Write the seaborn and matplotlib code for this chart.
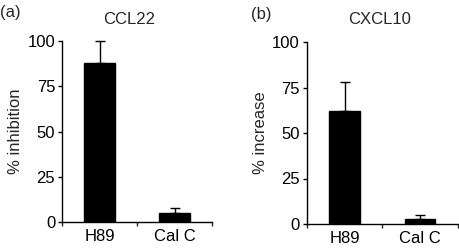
"""Two-panel bar chart: CCL22 inhibition and CXCL10 increase."""

import matplotlib
matplotlib.use("Agg")
import matplotlib.pyplot as plt
import pandas as pd
import seaborn as sns

# Data
treatments = ["H89", "Cal C"]
ccl22_mean = [88, 5]
ccl22_err = [12, 2.5]
cxcl10_mean = [62, 3]
cxcl10_err = [16, 2]

FS = 12

sns.set_style(style="ticks")
plt.rcParams["font.family"] = ["Liberation Sans", "DejaVu Sans"]

fig = plt.figure(figsize=(4.6, 2.5), dpi=100)
ax_a = fig.add_axes([0.135, 0.112, 0.326, 0.724])
ax_b = fig.add_axes([0.667, 0.104, 0.328, 0.728])

panels = [
    (ax_a, ccl22_mean, ccl22_err, "% inhibition"),
    (ax_b, cxcl10_mean, cxcl10_err, "% increase"),
]

for ax, means, errs, ylabel in panels:
    df = pd.DataFrame({"treatment": treatments, "value": means})
    sns.barplot(df, x="treatment", y="value", ax=ax, color="black",
                width=0.41, errorbar=None, saturation=1, edgecolor="black")
    ax.errorbar(range(len(treatments)), means, yerr=[[0] * len(errs), errs],
                fmt="none", ecolor="black", elinewidth=1, capsize=3.5,
                capthick=1, clip_on=False)

    ax.set_xlim(-0.5, 1.5)
    ax.set_ylim(0, 100)
    ax.set_yticks([0, 25, 50, 75, 100])
    ax.set_xticks([-0.5, 0.5, 1.5], minor=True)
    ax.tick_params(axis="x", which="major", length=0, pad=5)
    ax.tick_params(axis="x", which="minor", length=3, width=1, direction="out")
    ax.tick_params(axis="y", length=3, width=1, direction="out", pad=2)
    ax.tick_params(axis="both", labelsize=FS, colors="black")
    sns.despine(ax=ax)
    for side in ["left", "bottom"]:
        ax.spines[side].set_linewidth(1)
        ax.spines[side].set_color("black")

    ax.set_xlabel("")
    ax.set_ylabel(ylabel, fontsize=FS, labelpad=3)

fig.text(129 / 460, 0.92, "CCL22", ha="center", va="center", fontsize=FS)
fig.text(380 / 460, 0.92, "CXCL10", ha="center", va="center", fontsize=FS)
fig.text(0.0, 0.95, "(a)", ha="left", va="center", fontsize=FS)
fig.text(251 / 460, 0.94, "(b)", ha="left", va="center", fontsize=FS)

fig.savefig("out.png", dpi=100)
